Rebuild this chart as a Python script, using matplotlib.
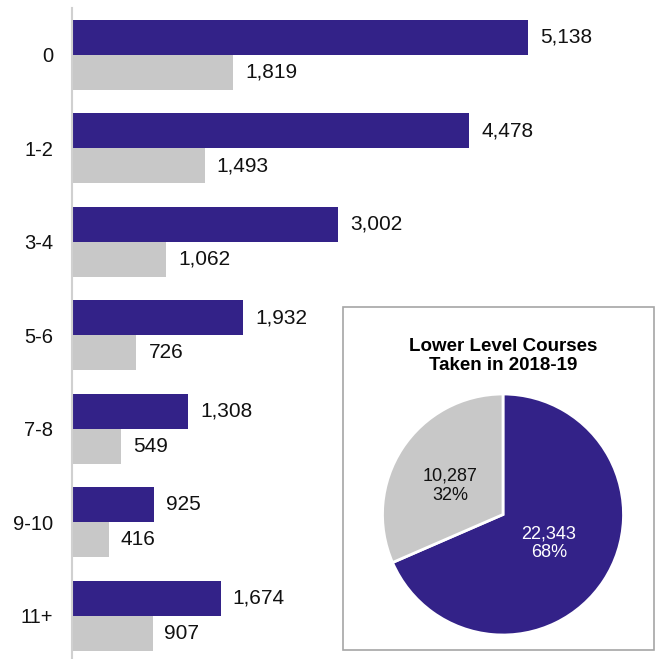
import matplotlib
matplotlib.use("Agg")
import matplotlib.pyplot as plt
from matplotlib.patches import Rectangle

plt.rcParams['font.family'] = ['Liberation Sans', 'DejaVu Sans']

# Courses taken, by group
categories = ["0", "1-2", "3-4", "5-6", "7-8", "9-10", "11+"]
series_a = [5138, 4478, 3002, 1932, 1308, 925, 1674]
series_b = [1819, 1493, 1062, 726, 549, 416, 907]

# Lower level courses taken in 2018-19
pie_values = [22343, 10287]
pie_pcts = ["68%", "32%"]

PURPLE = "#332288"
GRAY = "#C8C8C8"

fig = plt.figure(figsize=(6.6, 6.59), dpi=100)

# Bar chart
ax = fig.add_axes([72 / 660, 0, 588 / 660, 651 / 659])
h = 0.374
ypos = list(range(len(categories)))
ax.barh([y - h / 2 for y in ypos], series_a, height=h, color=PURPLE, edgecolor="none")
ax.barh([y + h / 2 for y in ypos], series_b, height=h, color=GRAY, edgecolor="none")
ax.set_xlim(0, 6625)
ax.set_ylim(6.46, -0.5)
ax.set_yticks(ypos)
ax.set_yticklabels(categories, fontsize=14.5, color="#111111")
ax.tick_params(axis="y", length=0, pad=13.5)
ax.set_xticks([])
for s in ["top", "right", "bottom"]:
    ax.spines[s].set_visible(False)
ax.spines["left"].set_color("#D0D0D0")
ax.spines["left"].set_linewidth(1.5)

for y, a, b in zip(ypos, series_a, series_b):
    ax.text(a + 135, y - h / 2, f"{a:,}", va="center", ha="left", fontsize=15, color="#111111")
    ax.text(b + 135, y + h / 2, f"{b:,}", va="center", ha="left", fontsize=15, color="#111111")

# Inset box
fig.patches.append(Rectangle((343 / 660, 9 / 659), 311 / 660, 343 / 659,
                             transform=fig.transFigure, facecolor="white",
                             edgecolor="#A6A6A6", linewidth=1.2, zorder=3))
fig.text(503 / 660, 1 - 356 / 659, "Lower Level Courses\nTaken in 2018-19",
         ha="center", va="center", fontsize=13.5, fontweight="bold",
         linespacing=1.2, zorder=4)

# Pie chart
pax = fig.add_axes([382 / 660, 24 / 659, 242 / 660, 241 / 659], zorder=5)
pax.pie(pie_values, colors=[PURPLE, GRAY], startangle=90, counterclock=False,
        wedgeprops=dict(edgecolor="white", linewidth=2))
pax.set_xlim(-1.0, 1.0)
pax.set_ylim(-1.0, 1.0)
pax.set_aspect("equal")
pax.axis("off")
pax.text(0.38, -0.24, f"{pie_values[0]:,}\n{pie_pcts[0]}", ha="center", va="center",
         fontsize=13, color="white", linespacing=1.15)
pax.text(-0.44, 0.24, f"{pie_values[1]:,}\n{pie_pcts[1]}", ha="center", va="center",
         fontsize=13, color="#111111", linespacing=1.15)

fig.savefig("out.png", dpi=100)
